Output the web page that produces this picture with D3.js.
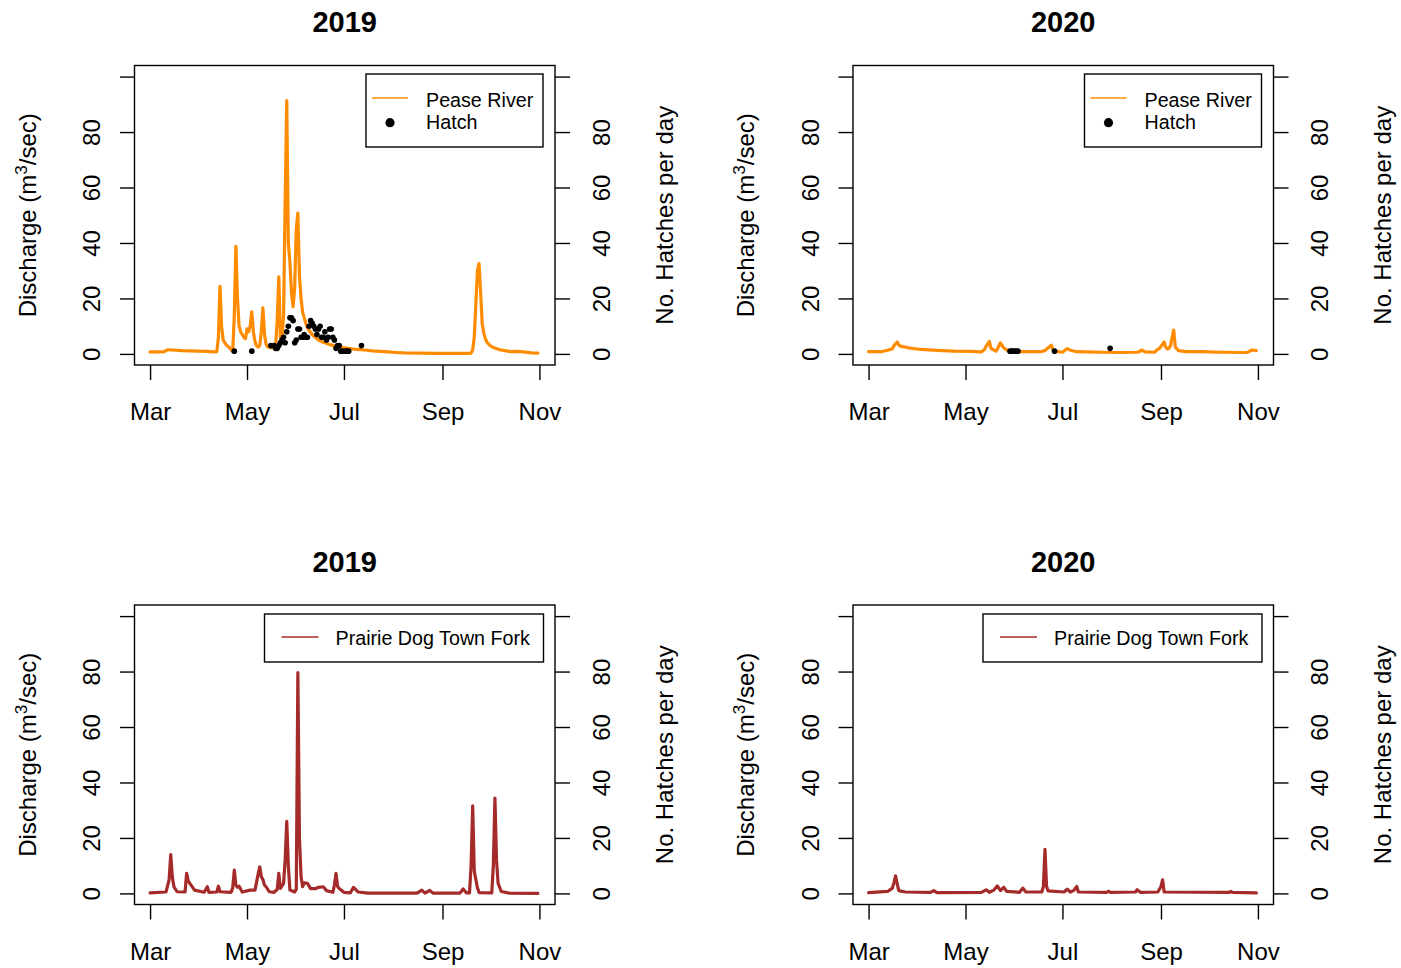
<!DOCTYPE html>
<html>
<head>
<meta charset="utf-8">
<script src="https://cdn.jsdelivr.net/npm/d3@7"></script>
<style>
  html, body { margin: 0; padding: 0; background: #ffffff; }
  svg { display: block; }
</style>
</head>
<body>
<svg id="chart" width="1401" height="968"></svg>
<script>
// ---- Axis ticks and labels ----
const monthTickDays = ["03-01", "05-01", "07-01", "09-01", "11-01"];
const monthTickLabels = ["Mar", "May", "Jul", "Sep", "Nov"];
const yTickValues = [0, 20, 40, 60, 80, 100];
const yTickLabels = ["0", "20", "40", "60", "80", ""];

// ---- Daily discharge (m3/sec), [month-day, value] ----
const pease2019 = [
  ["03-01",0.7],["03-06",0.7],["03-10",0.8],["03-12",1.5],["03-15",1.4],["03-21",1.2],["03-31",1.0],
  ["04-06",0.9],["04-10",0.7],["04-12",0.8],["04-13",6],["04-14",24.4],["04-15",10],["04-16",5],
  ["04-18",3.2],["04-20",2.2],["04-21",1.5],["04-22",0.8],["04-23",14],["04-24",38.8],["04-25",20],
  ["04-26",10],["04-27",8],["04-28",7],["04-29",6],["04-30",5.5],["05-01",9],["05-02",8],["05-03",10],
  ["05-04",15.2],["05-05",8],["05-06",4.5],["05-07",3],["05-08",2.5],["05-09",3],["05-10",8],
  ["05-11",16.6],["05-12",7],["05-13",3.5],["05-14",2.5],["05-16",2.2],["05-18",2.2],["05-19",3],
  ["05-20",12],["05-21",27.8],["05-22",6],["05-23",5],["05-24",14],["05-25",55],["05-26",91.3],
  ["05-27",40],["05-28",33],["05-29",22],["05-30",17],["05-31",24],["06-01",45],["06-02",50.8],
  ["06-03",28],["06-04",20],["06-05",15],["06-06",13],["06-07",11],["06-08",9.5],["06-09",8.5],
  ["06-11",7],["06-13",6],["06-15",5],["06-17",4.4],["06-19",4],["06-22",3.4],["06-25",2.9],
  ["06-29",2.4],["07-04",2],["07-09",1.6],["07-14",1.4],["07-19",1.1],["07-24",0.9],["07-29",0.7],
  ["08-03",0.5],["08-08",0.35],["08-18",0.25],["08-28",0.2],["09-07",0.2],["09-17",0.2],["09-19",0.3],
  ["09-20",1.5],["09-21",6],["09-22",18],["09-23",30],["09-24",32.6],["09-25",22],["09-26",11],
  ["09-27",7.5],["09-28",5.5],["09-29",4.2],["10-01",3],["10-03",2.3],["10-07",1.5],["10-12",1],
  ["10-14",0.8],["10-17",0.9],["10-22",0.7],["10-27",0.4],["10-31",0.3]
];

const pease2020 = [
  ["03-01",0.8],["03-09",0.8],["03-13",1.3],["03-16",1.9],["03-17",3.0],["03-19",4.3],["03-20",3.3],
  ["03-21",2.8],["03-26",2.2],["04-03",1.6],["04-13",1.3],["04-24",1.0],["05-04",0.9],["05-11",0.7],
  ["05-13",1.6],["05-14",2.8],["05-16",4.5],["05-17",2.0],["05-20",1.0],["05-21",1.6],["05-22",3.0],
  ["05-23",4.0],["05-25",2.2],["05-28",1.0],["06-05",0.8],["06-17",0.8],["06-20",1.2],["06-22",2.2],
  ["06-24",3.1],["06-25",1.6],["06-28",0.8],["07-01",0.6],["07-03",1.5],["07-04",1.9],["07-06",1.3],
  ["07-10",0.8],["07-16",0.7],["07-25",0.6],["08-06",0.5],["08-17",0.6],["08-19",1.0],["08-20",1.4],
  ["08-22",0.7],["08-28",0.6],["08-30",1.7],["08-31",1.9],["09-02",3.5],["09-03",4.3],["09-04",2.4],
  ["09-05",1.8],["09-06",2.0],["09-07",3.0],["09-08",6.0],["09-09",8.6],["09-10",2.5],["09-12",1.2],
  ["09-17",0.8],["09-27",0.8],["10-08",0.6],["10-25",0.5],["10-27",1.0],["10-28",1.4],["10-31",1.2]
];

const prairieDog2019 = [
  ["03-01",0.2],["03-11",0.5],["03-13",5],["03-14",14],["03-15",6],["03-16",2.4],["03-18",0.6],
  ["03-23",0.5],["03-24",7.2],["03-25",4.5],["03-26",3.6],["03-29",1.2],["04-04",0.4],["04-06",2.4],
  ["04-07",0.4],["04-12",0.5],["04-13",2.6],["04-14",0.6],["04-21",0.4],["04-22",2],["04-23",8.4],
  ["04-24",3],["04-25",2.2],["04-26",2.6],["04-28",0.5],["05-03",1.2],["05-06",1.2],["05-07",4],
  ["05-08",7],["05-09",9.6],["05-10",6],["05-11",5],["05-12",3],["05-13",2.4],["05-15",0.6],
  ["05-18",0.4],["05-20",1.4],["05-21",7.2],["05-22",1.8],["05-24",3.6],["05-25",12],["05-26",26],
  ["05-27",10],["05-28",1.2],["05-31",0.5],["06-01",1.5],["06-02",79.6],["06-03",20],["06-04",6],
  ["06-05",2.4],["06-06",3.8],["06-08",3.6],["06-10",1.7],["06-13",1.7],["06-15",2.2],["06-18",2.4],
  ["06-20",1.0],["06-24",0.4],["06-25",3],["06-26",7.2],["06-27",2.5],["06-28",1.8],["07-01",0.4],
  ["07-05",0.2],["07-07",2.2],["07-10",0.5],["07-16",0.1],["08-16",0.1],["08-19",1.2],["08-21",0.1],
  ["08-24",1.1],["08-26",0.1],["09-12",0.1],["09-14",1.6],["09-16",0.2],["09-18",0.2],["09-19",10],
  ["09-20",31.6],["09-21",8],["09-22",5],["09-23",2],["09-24",0.3],["10-02",0.2],["10-03",10],
  ["10-04",34.4],["10-05",12],["10-06",3.6],["10-08",0.7],["10-13",0.1],["10-31",0]
];

const prairieDog2020 = [
  ["03-01",0.3],["03-13",0.7],["03-16",1.9],["03-17",4],["03-18",6.3],["03-19",3.5],["03-20",1.0],
  ["03-24",0.5],["04-09",0.4],["04-11",1.0],["04-13",0.3],["05-11",0.4],["05-14",1.3],["05-16",0.4],
  ["05-19",1.3],["05-21",2.7],["05-23",1.0],["05-25",2.2],["05-27",0.7],["06-04",0.4],["06-06",1.9],
  ["06-08",0.5],["06-18",0.5],["06-19",2.5],["06-20",15.9],["06-21",2.5],["06-22",0.9],["07-02",0.5],
  ["07-04",1.5],["07-06",0.5],["07-08",1.0],["07-10",2.5],["07-11",0.5],["07-29",0.4],["07-30",0.8],
  ["07-31",0.4],["08-16",0.5],["08-17",1.3],["08-19",0.4],["08-30",0.5],["09-01",2.5],["09-02",4.9],
  ["09-03",0.5],["10-14",0.4],["10-15",0.7],["10-16",0.4],["10-31",0.2]
];

// ---- Hatches per day, [month-day, count] ----
const hatch2019 = [
  ["04-23",1],["05-04",1],["05-16",3],["05-18",3],["05-19",2],["05-20",2],["05-21",3],["05-22",4],
  ["05-23",5],["05-24",6],["05-25",4],["05-26",8],["05-27",10],["05-28",13],["05-29",13],["05-30",12],
  ["05-31",4],["06-01",5],["06-02",9],["06-03",9],["06-04",6],["06-05",6],["06-06",7],["06-07",6],
  ["06-08",6],["06-09",10],["06-10",12],["06-11",11],["06-12",10],["06-13",9],["06-14",7],["06-15",9],
  ["06-16",10],["06-17",6],["06-18",6],["06-19",8],["06-20",5],["06-21",6],["06-22",9],["06-23",9],
  ["06-24",6],["06-25",5],["06-26",2],["06-27",3],["06-28",3],["06-29",1],["06-30",1],["07-02",1],
  ["07-03",1],["07-04",1],["07-12",3]
];

const hatch2020 = [
  ["05-29",1],["05-30",1],["05-31",1],["06-01",1],["06-02",1],["06-03",1],["06-26",1],["07-31",2]
];

const peaseColor = "#FF8C00";
const prairieColor = "#A52A2A";

const panels = [
  { year: 2019, flow: pease2019, hatch: hatch2019, river: "Pease River", color: peaseColor, col: 0, row: 0 },
  { year: 2020, flow: pease2020, hatch: hatch2020, river: "Pease River", color: peaseColor, col: 1, row: 0 },
  { year: 2019, flow: prairieDog2019, hatch: null, river: "Prairie Dog Town Fork", color: prairieColor, col: 0, row: 1 },
  { year: 2020, flow: prairieDog2020, hatch: null, river: "Prairie Dog Town Fork", color: prairieColor, col: 1, row: 1 }
];

// ---- Layout ----
const FONT = "'Liberation Sans', Arial, Helvetica, sans-serif";
const colLeft = [134.5, 853];
const rowTop = [65.5, 605];
const W = 420.5, H = 299.5;
const padX = W * 0.04 / 1.08;
const padY = H * 0.04 / 1.08;

const svg = d3.select("#chart");
svg.append("rect").attr("width", 1401).attr("height", 968).attr("fill", "#ffffff");

panels.forEach(p => {
  const parse = d3.timeParse("%Y-%m-%d");
  const toDate = md => parse(`${p.year}-${md}`);

  const x = d3.scaleTime()
    .domain([toDate("03-01"), toDate("11-01")])
    .range([padX, W - padX]);
  const y = d3.scaleLinear().domain([0, 100]).range([H - padY, padY]);

  const g = svg.append("g")
    .attr("transform", `translate(${colLeft[p.col]},${rowTop[p.row]})`)
    .attr("font-family", FONT);

  // discharge line
  g.append("path")
    .datum(p.flow)
    .attr("fill", "none")
    .attr("stroke", p.color)
    .attr("stroke-width", 3.2)
    .attr("stroke-linejoin", "round")
    .attr("stroke-linecap", "round")
    .attr("d", d3.line().x(d => x(toDate(d[0]))).y(d => y(d[1])));

  // hatch counts share the same vertical scale (right axis)
  if (p.hatch) {
    g.append("g").selectAll("circle")
      .data(p.hatch)
      .join("circle")
      .attr("cx", d => x(toDate(d[0])))
      .attr("cy", d => y(d[1]))
      .attr("r", 2.8)
      .attr("fill", "#000000");
  }

  // plot frame
  g.append("rect")
    .attr("x", 0).attr("y", 0).attr("width", W).attr("height", H)
    .attr("fill", "none").attr("stroke", "#000000").attr("stroke-width", 1.4);

  // bottom axis (months)
  const gx = g.append("g")
    .attr("transform", `translate(0,${H})`)
    .call(d3.axisBottom(x)
      .tickValues(monthTickDays.map(toDate))
      .tickFormat((d, i) => monthTickLabels[i])
      .tickSize(15).tickSizeOuter(0));
  gx.select(".domain").remove();
  gx.attr("font-family", FONT).attr("font-size", 24);
  gx.selectAll(".tick line").attr("stroke-width", 1.4);
  gx.selectAll(".tick text").attr("y", 55).attr("dy", null).attr("fill", "#000");

  // left axis (discharge)
  const gl = g.append("g")
    .call(d3.axisLeft(y).tickValues(yTickValues)
      .tickFormat((d, i) => yTickLabels[i]).tickSize(14.5).tickSizeOuter(0));
  gl.select(".domain").remove();
  gl.attr("font-family", FONT).attr("font-size", 24);
  gl.selectAll(".tick line").attr("stroke-width", 1.4);
  gl.selectAll(".tick text")
    .attr("x", 0).attr("dy", null).attr("text-anchor", "middle").attr("fill", "#000")
    .attr("transform", "translate(-34.3,0) rotate(-90)");

  // right axis (hatches)
  const gr = g.append("g")
    .attr("transform", `translate(${W},0)`)
    .call(d3.axisRight(y).tickValues(yTickValues)
      .tickFormat((d, i) => yTickLabels[i]).tickSize(15).tickSizeOuter(0));
  gr.select(".domain").remove();
  gr.attr("font-family", FONT).attr("font-size", 24);
  gr.selectAll(".tick line").attr("stroke-width", 1.4);
  gr.selectAll(".tick text")
    .attr("x", 0).attr("dy", null).attr("text-anchor", "middle").attr("fill", "#000")
    .attr("transform", "translate(54.7,0) rotate(-90)");

  // title
  g.append("text")
    .attr("x", W / 2).attr("y", -33.2)
    .attr("text-anchor", "middle")
    .attr("font-size", 29).attr("font-weight", "bold")
    .text(String(p.year));

  // left axis title with superscript
  const lt = g.append("text")
    .attr("transform", `translate(-99,${H / 2}) rotate(-90)`)
    .attr("text-anchor", "middle")
    .attr("font-size", 24);
  lt.append("tspan").text("Discharge (m");
  lt.append("tspan").attr("font-size", 17).attr("dy", -9).text("3");
  lt.append("tspan").attr("dy", 9).text("/sec)");

  // right axis title
  g.append("text")
    .attr("transform", `translate(${W + 117.5},${H / 2}) rotate(-90)`)
    .attr("text-anchor", "middle")
    .attr("font-size", 24)
    .text("No. Hatches per day");

  // legend
  const lg = g.append("g").attr("font-size", 19.7);
  if (p.hatch) {
    lg.append("rect").attr("x", 231.5).attr("y", 8.5).attr("width", 177).attr("height", 73)
      .attr("fill", "#ffffff").attr("stroke", "#000").attr("stroke-width", 1.4);
    lg.append("line").attr("x1", 237.5).attr("x2", 273.5).attr("y1", 32.5).attr("y2", 32.5)
      .attr("stroke", p.color).attr("stroke-width", 1.5);
    lg.append("circle").attr("cx", 255.5).attr("cy", 57.2).attr("r", 4.6).attr("fill", "#000");
    lg.append("text").attr("x", 291.5).attr("y", 41.2).text(p.river);
    lg.append("text").attr("x", 291.5).attr("y", 63.8).text("Hatch");
  } else {
    lg.append("rect").attr("x", 130).attr("y", 9).attr("width", 279).attr("height", 48)
      .attr("fill", "#ffffff").attr("stroke", "#000").attr("stroke-width", 1.4);
    lg.append("line").attr("x1", 147).attr("x2", 184).attr("y1", 32).attr("y2", 32)
      .attr("stroke", p.color).attr("stroke-width", 1.5);
    lg.append("text").attr("x", 201).attr("y", 40).text(p.river);
  }
});
</script>
</body>
</html>
